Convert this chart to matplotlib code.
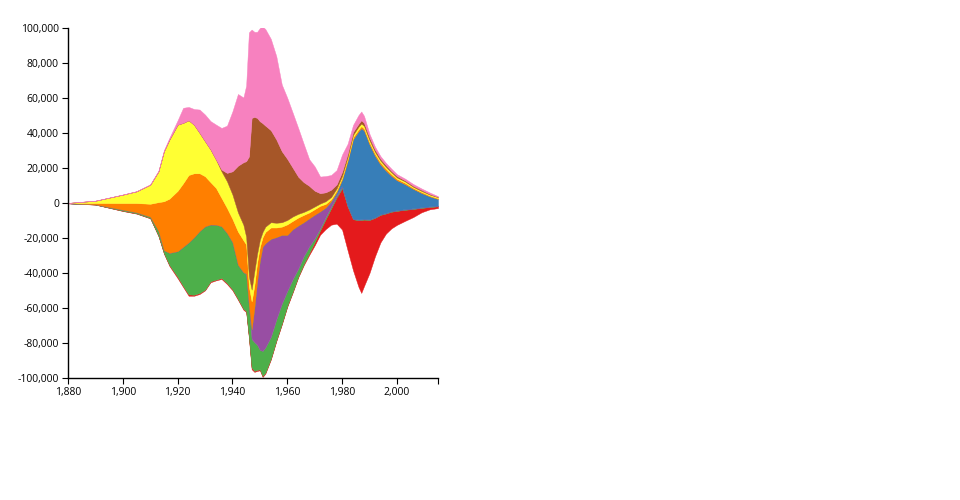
import matplotlib
matplotlib.use("Agg")
import matplotlib.pyplot as plt
import numpy as np

plt.rcParams['font.family'] = ['Open Sans', 'DejaVu Sans']

# years sampled from the chart
years = [1880, 1890, 1900, 1905, 1910, 1913, 1915, 1917, 1920, 1922,
         1924, 1926, 1928, 1930, 1932, 1934, 1936, 1938, 1940, 1942,
         1944, 1945, 1946, 1947, 1948, 1949, 1950, 1951, 1952, 1954,
         1956, 1958, 1960, 1962, 1964, 1966, 1968, 1970, 1972, 1974,
         1976, 1978, 1980, 1982, 1984, 1986, 1987, 1988, 1990, 1992,
         1994, 1996, 1998, 2000, 2003, 2006, 2009, 2012, 2015]

# lower edge of the stream
baseline = [-200, -950, -4600, -6100, -8800, -19000, -29000, -36000, -43000, -48000,
            -53000, -53000, -52000, -49900, -45300, -44200, -43400, -46300, -49900, -55300,
            -61000, -62300, -77200, -95000, -96500, -96000, -95600, -99400, -97500, -89500,
            -79000, -69500, -59300, -51100, -42500, -35600, -29700, -24200, -18100, -14900,
            -12400, -11800, -15200, -27000, -38500, -48000, -51400, -47500, -40000, -30500,
            -22500, -17500, -14500, -12500, -10200, -8000, -5300, -3600, -2900]

# layers, bottom to top
red = [30, 60, 200, 200, 200, 400, 400, 600, 800, 600,
       800, 600, 600, 400, 600, 400, 600, 600, 600, 600,
       600, 600, 800, 1000, 600, 600, 600, 600, 600, 600,
       600, 600, 600, 600, 600, 800, 1100, 1900, 2500, 5700,
       9300, 14900, 23600, 25000, 29200, 38200, 41700, 38000, 30300, 22000,
       15700, 11500, 9500, 8000, 6300, 4600, 2500, 1300, 1000]
green = [40, 130, 570, 570, 760, 2600, 1600, 6900, 14700, 22400,
         29700, 32900, 35400, 36200, 32400, 31400, 29500, 28600, 26900, 19400,
         20800, 21000, 17300, 16300, 16400, 14400, 11000, 14300, 14400, 12400,
         11900, 11400, 8500, 7000, 4400, 4400, 3800, 2100, 1100, 1100,
         1000, 800, 600, 400, 200, 200, 200, 200, 200, 200,
         200, 200, 200, 200, 200, 200, 200, 200, 200]
purple = [0, 0, 0, 0, 0, 0, 0, 0, 0, 0,
          0, 0, 0, 0, 0, 0, 0, 0, 0, 0,
          0, 400, 500, 5300, 19500, 36000, 51000, 59500, 59500, 56000,
          47000, 39200, 31900, 28500, 24600, 19400, 16000, 13500, 9700, 5300,
          2500, 1000, 800, 400, 200, 200, 200, 200, 200, 200,
          200, 200, 200, 200, 200, 200, 200, 200, 200]
blue = [0, 0, 0, 0, 0, 0, 0, 0, 0, 0,
        0, 0, 0, 0, 0, 0, 0, 0, 0, 0,
        0, 0, 0, 0, 0, 0, 0, 0, 0, 0,
        0, 0, 0, 0, 0, 0, 0, 0, 0, 200,
        600, 1300, 3600, 25200, 45400, 50400, 52100, 50600, 42800, 35100,
        28400, 24100, 20100, 17100, 14200, 11000, 8100, 5700, 3800]
orange = [60, 760, 3800, 5300, 7400, 16500, 28000, 31000, 34500, 36300,
          38500, 36500, 33000, 28600, 24200, 21000, 16200, 14300, 13300, 19000,
          18300, 16600, 10900, 16200, 13000, 11000, 8000, 5500, 6500, 6500,
          5500, 4800, 6100, 4800, 4600, 4200, 3400, 3200, 3200, 2100,
          1100, 1000, 1000, 1100, 1100, 1100, 1100, 1100, 1100, 1100,
          1100, 1100, 1000, 800, 800, 600, 600, 400, 400]
yellow = [100, 1300, 4800, 6700, 10900, 17600, 28600, 33800, 37800, 34500,
          31300, 27700, 23100, 20000, 18700, 16200, 15200, 15200, 13900, 10900,
          8800, 4400, 5700, 6700, 8000, 5000, 4000, 3000, 3000, 3000,
          2700, 2500, 2500, 2500, 2100, 1700, 1700, 1500, 1300, 1500,
          1300, 1100, 1100, 1100, 1300, 1500, 1500, 1500, 1300, 1100,
          1100, 1000, 1000, 800, 800, 600, 600, 600, 600]
brown = [0, 0, 0, 0, 0, 0, 0, 0, 0, 0,
         0, 0, 0, 0, 0, 0, 1000, 4800, 13300, 26700,
         35800, 43200, 68600, 98100, 88200, 77600, 67700, 62100, 57700, 52600,
         47600, 40600, 34900, 27800, 21200, 17000, 13500, 9000, 5900, 5100,
         4200, 2300, 2300, 1900, 1700, 1700, 1900, 1700, 1500, 1300,
         1100, 1000, 800, 800, 600, 600, 600, 400, 200]
pink = [40, 60, 100, 100, 200, 400, 600, 1000, 2500, 8600,
        7600, 9000, 13300, 15200, 16200, 20000, 23800, 27000, 34300, 41000,
        37000, 43200, 70900, 50500, 48600, 49200, 53300, 55200, 55200, 52200,
        47600, 38100, 34900, 31400, 27800, 21900, 15200, 13900, 9500, 9300,
        8400, 8200, 9900, 5700, 4000, 5000, 5000, 4000, 2100, 1700,
        1500, 1300, 1300, 1100, 1000, 1000, 800, 800, 400]

layers = [red, green, purple, blue, orange, yellow, brown, pink]
colors = ['#e41a1c', '#4daf4a', '#984ea3', '#377eb8',
          '#ff7f00', '#ffff33', '#a65628', '#f781bf']

fig = plt.figure(figsize=(9.6, 5), dpi=100)
ax = fig.add_axes([68 / 960, 122 / 500, 370 / 960, 350 / 500])

x = np.array(years)
lower = np.array(baseline, dtype=float)
for vals, c in zip(layers, colors):
    upper = lower + np.array(vals)
    ax.fill_between(x, lower, upper, facecolor=c, edgecolor=c, linewidth=0.3)
    lower = upper

ax.set_xlim(1880, 2015)
ax.set_ylim(-100000, 100000)
ax.set_xticks(range(1880, 2001, 20))
ax.set_xticks([2015], minor=True)
ax.set_yticks(range(-100000, 100001, 20000))
ax.xaxis.set_major_formatter(matplotlib.ticker.FuncFormatter(lambda v, p: f"{int(v):,}"))
ax.yaxis.set_major_formatter(matplotlib.ticker.FuncFormatter(lambda v, p: f"{int(v):,}"))

for s in ['top', 'right']:
    ax.spines[s].set_visible(False)
for s in ['left', 'bottom']:
    ax.spines[s].set_linewidth(1)
    ax.spines[s].set_color('black')
ax.tick_params(which='both', direction='out', length=4.3, width=0.8, pad=2.2,
               labelsize=7.5, colors='black')

fig.savefig('out.png', dpi=100)
